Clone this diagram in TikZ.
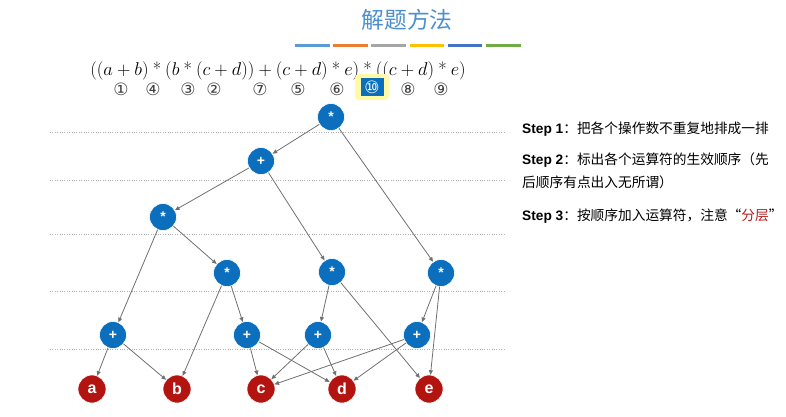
\documentclass[tikz,border=0pt]{standalone}
\usepackage{amsmath}
\usepackage{fontspec}
\setsansfont{Liberation Sans}
\newfontfamily\cjkfont{Noto Sans CJK SC}
\newfontfamily\symfont{DejaVu Sans}
\usepackage{tikz}
\usetikzlibrary{positioning}
\usetikzlibrary{arrows.meta}
\tikzset{>={Triangle[width=1.4mm,length=1.6mm]}}

\definecolor{opblue}{HTML}{0B6FBE}
\definecolor{leafred}{HTML}{B3140F}
\definecolor{edgegray}{HTML}{707070}
\definecolor{titleblue}{HTML}{4C8FCF}
\definecolor{hlred}{HTML}{B01E1E}
\definecolor{bar0}{HTML}{5B9BD5}
\definecolor{bar1}{HTML}{ED7D31}
\definecolor{bar2}{HTML}{A5A5A5}
\definecolor{bar3}{HTML}{FFC000}
\definecolor{bar4}{HTML}{4472C4}
\definecolor{bar5}{HTML}{70AD47}
\newcommand{\mul}{\mathbin{\mbox{*}}}

\begin{document}
\begin{tikzpicture}[x=1pt,y=-1pt]
    \useasboundingbox (0,0) rectangle (786,416);

    \tikzstyle{onode} = [circle, fill=opblue, draw=white, line width=0.6pt, minimum size=27pt, inner sep=0pt, text=white, font=\sffamily\bfseries\fontsize{14}{14}\selectfont]
    \tikzstyle{lnode} = [circle, fill=leafred, draw=white, line width=0.6pt, minimum size=28pt, inner sep=0pt, text=white, font=\sffamily\bfseries\fontsize{16}{16}\selectfont]
    \tikzstyle{sepline} = [gray!60, line width=0.8pt, dash pattern=on 0.8pt off 1.6pt]
    \tikzstyle{stepnote} = [anchor=west, align=left, inner sep=0pt, font=\fontsize{13.7}{23}\selectfont]

    % title
    \node[text=titleblue, font=\cjkfont\fontsize{22.8}{22.8}\selectfont] (title) at (407,20) {解题方法};
    \foreach \i in {0,...,5}
      \fill[bar\i] (295+\i*38.2,43.5) rectangle ++(34.5,3.5);

    % expression and order of the operators
    \node[font=\fontsize{17}{22}\selectfont] (expr) at (278,71)
      {\scalebox{1.07}{$((a+b)\mul(b\mul(c+d))+(c+d)\mul e)\mul((c+d)\mul e)$}};
    \fill[yellow!35, rounded corners=4pt] (355,74) rectangle (389,100);
    \node[fill=opblue, text=white, inner sep=1pt, minimum width=23pt, minimum height=18pt, font=\symfont\fontsize{17}{17}\selectfont] (o10) at (372,87) {⑩};
    \foreach \x/\n in {121/①,153/④,188/③,214/②,260/⑦,298/⑤,337/⑥,408/⑧,441/⑨}
      \node[text=black!75, font=\symfont\fontsize{17}{17}\selectfont] at (\x,89) {\n};

    % levels
    \foreach \y in {132,180,234,291,349}
      \draw[sepline] (50,\y) -- (505,\y);

    % operators
    \node[onode] (root) at (331,117) {*};
    \node[onode] (p7) at (261,161) {+};
    \node[onode] (m4) at (163,217) {*};
    \node[onode] (m3) at (227,273) {*};
    \node[onode] (m6) at (332,272) {*};
    \node[onode] (m9) at (441,273) {*};
    \node[onode] (p1) at (113,335) {+};
    \node[onode] (p2) at (247,335) {+};
    \node[onode] (p5) at (318,335) {+};
    \node[onode] (p8) at (417,335) {+};

    % operands
    \node[lnode] (a) at (92,389) {a};
    \node[lnode] (b) at (177,389) {b};
    \node[lnode] (c) at (261,389) {c};
    \node[lnode] (d) at (342,389) {d};
    \node[lnode] (e) at (429,389) {e};

    \begin{scope}[edgegray, line width=0.8pt]
      % edge level0 to level1
      \draw[->] (root) -- (p7);
      \draw[->] (root) -- (m9);

      \draw[->] (p7) -- (m4);
      \draw[->] (p7) -- (m6);

      \draw[->] (m4) -- (p1);
      \draw[->] (m4) -- (m3);

      \draw[->] (m3) -- (b);
      \draw[->] (m3) -- (p2);

      \draw[->] (m6) -- (p5);
      \draw[->] (m6) -- (e);

      \draw[->] (m9) -- (p8);
      \draw[->] (m9) -- (e);

      % edge to operands
      \draw[->] (p1) -- (a);
      \draw[->] (p1) -- (b);

      \draw[->] (p2) -- (c);
      \draw[->] (p2) -- (d);

      \draw[->] (p5) -- (c);
      \draw[->] (p5) -- (d);

      \draw[->] (p8) -- (c);
      \draw[->] (p8) -- (d);
    \end{scope}

    % steps
    \node[stepnote] (s1) at (522,129) {{\sffamily\bfseries Step 1}{\cjkfont ：把各个操作数不重复地排成一排}};
    \node[stepnote, anchor=north west] (s2) at (522,153) {{\sffamily\bfseries Step 2}{\cjkfont ：标出各个运算符的生效顺序（先}\\{\cjkfont 后顺序有点出入无所谓）}};
    \node[stepnote] (s3) at (522,216) {{\sffamily\bfseries Step 3}{\cjkfont ：按顺序加入运算符，注意“\textcolor{hlred}{分层}”}};
\end{tikzpicture}
\end{document}
